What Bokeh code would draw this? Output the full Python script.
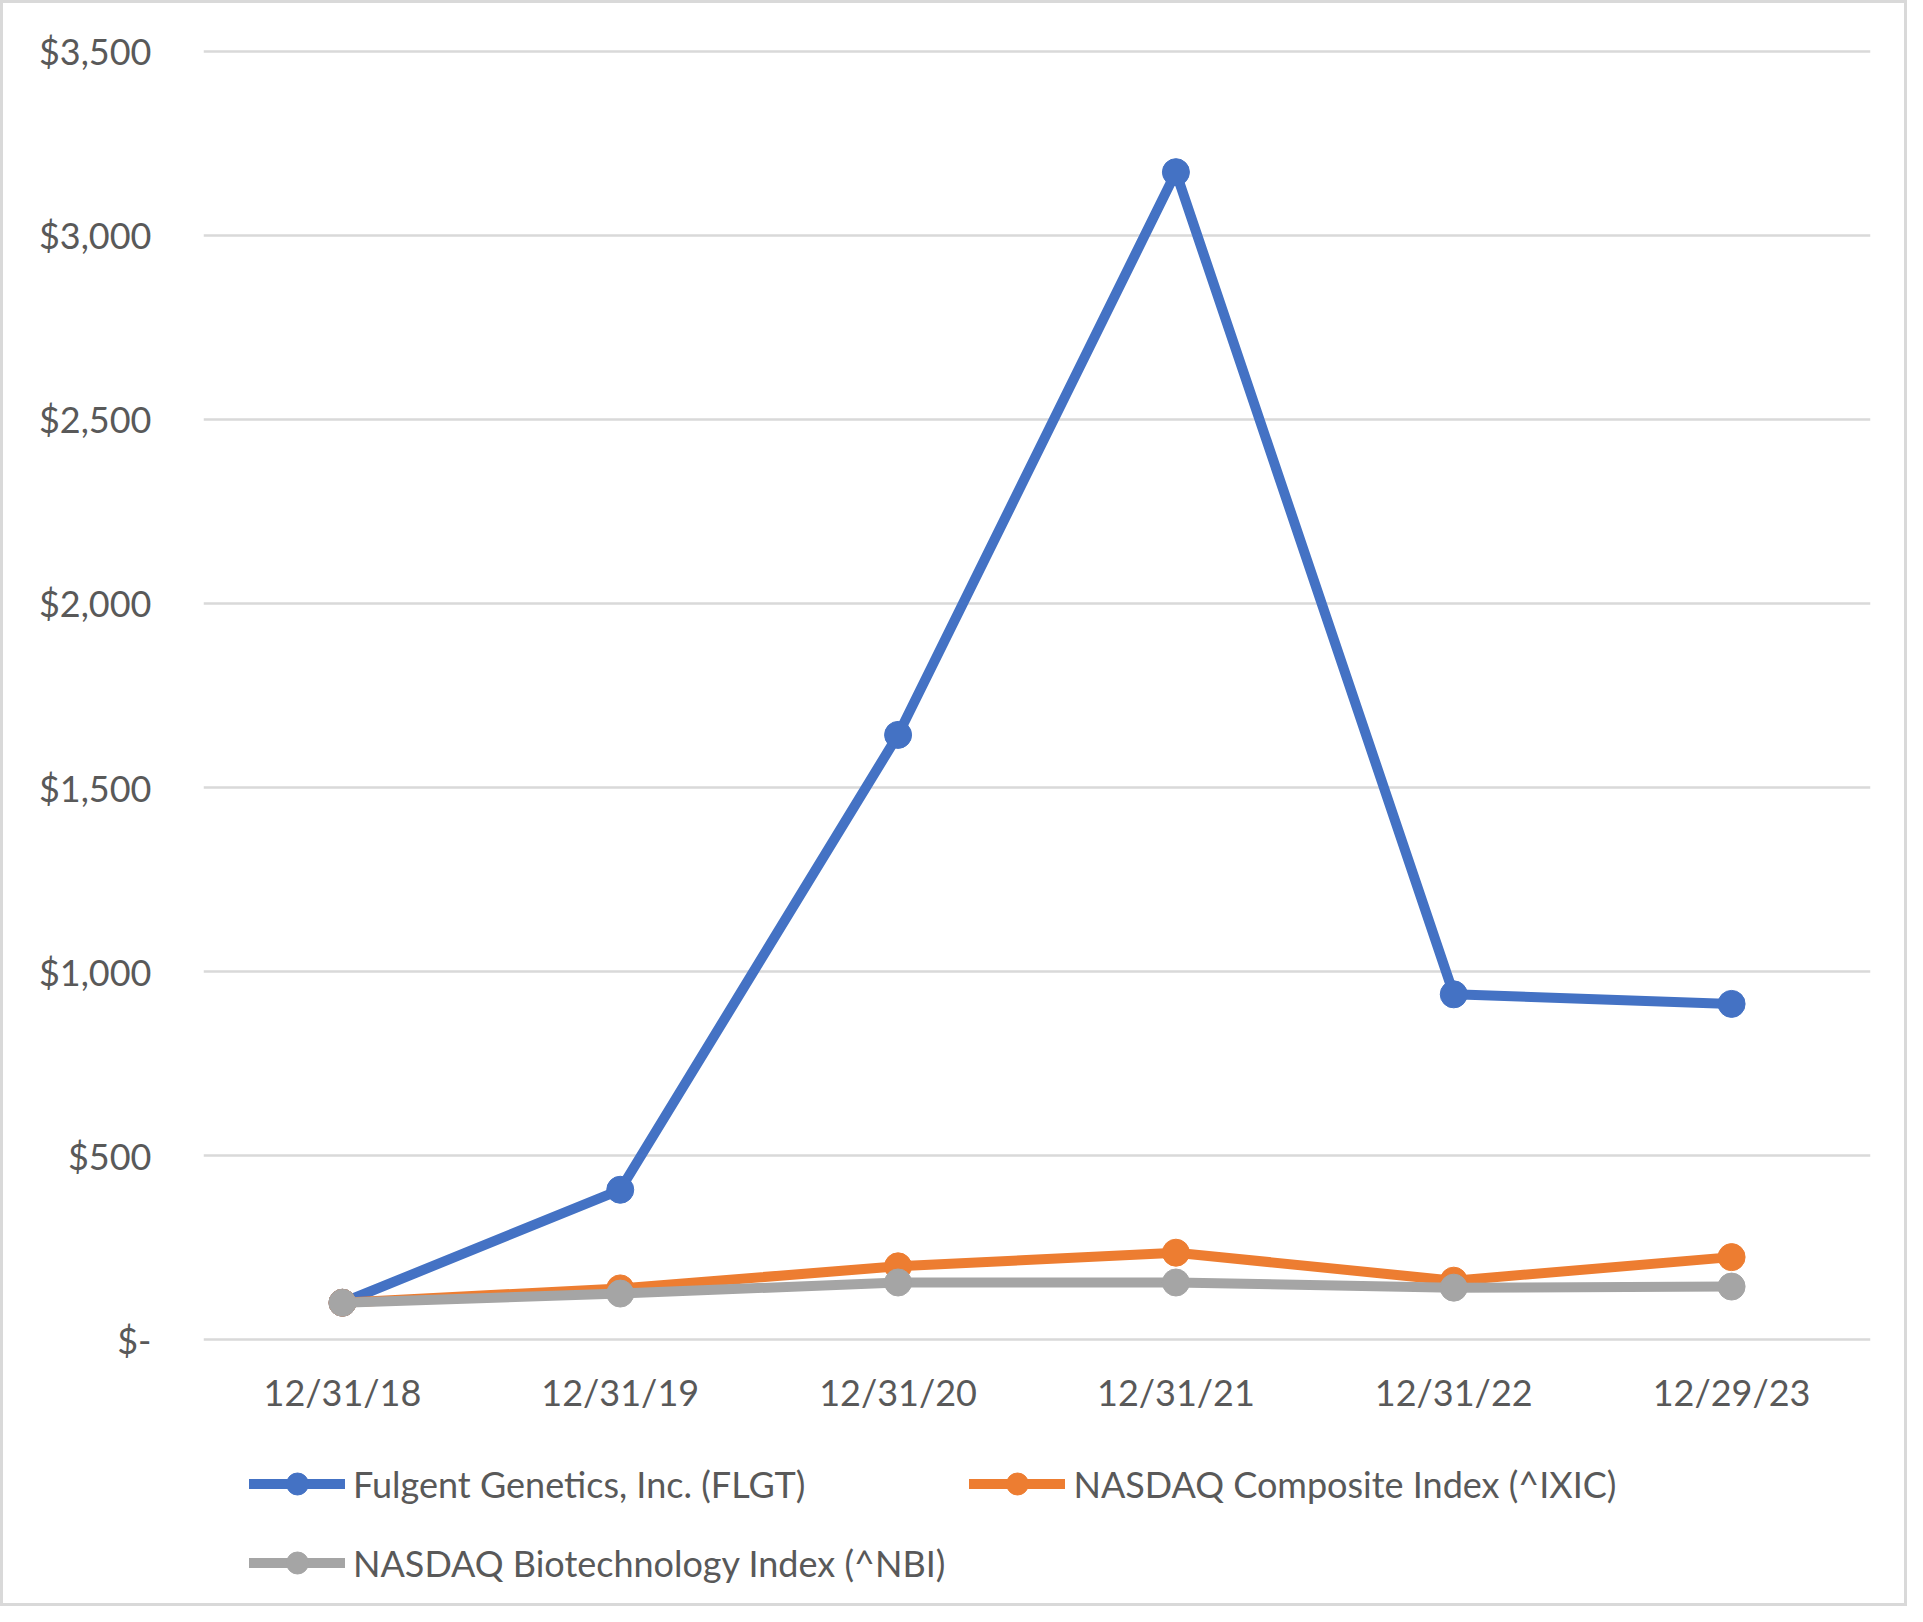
from bokeh.plotting import figure
from bokeh.layouts import column
from bokeh.models import FactorRange, Range1d, FixedTicker, Legend, LegendItem, ColumnDataSource
from bokeh.embed import file_html
from bokeh.resources import INLINE

dates = ["12/31/18", "12/31/19", "12/31/20", "12/31/21", "12/31/22", "12/29/23"]
flgt = [100, 407, 1643, 3172, 938, 912]
ixic = [100, 139, 199, 236, 160, 224]
nbi = [100, 125, 155, 155, 141, 144]
series_names = ["Fulgent Genetics, Inc. (FLGT)", "NASDAQ Composite Index (^IXIC)", "NASDAQ Biotechnology Index (^NBI)"]
y_ticks = [0, 500, 1000, 1500, 2000, 2500, 3000, 3500]
y_tick_labels = ["$-", "$500", "$1,000", "$1,500", "$2,000", "$2,500", "$3,000", "$3,500"]

colors = ["#4472C4", "#ED7D31", "#A5A5A5"]
FONT = "Lato"
TXT = "#595959"
FS = "36px"
LW = 10
MS = 27

p = figure(x_range=FactorRange(*dates), y_range=Range1d(-8, 3508),
           width=1901, height=1420,
           min_border_left=200, min_border_top=45, min_border_right=34, min_border_bottom=81,
           output_backend="svg", toolbar_location=None)
p.outline_line_color = None
p.background_fill_color = "white"
p.border_fill_color = "white"

p.xgrid.grid_line_color = None
p.ygrid.grid_line_color = "#D9D9D9"
p.ygrid.grid_line_width = 2.5

p.yaxis.ticker = FixedTicker(ticks=y_ticks)
p.yaxis.major_label_overrides = {t: l for t, l in zip(y_ticks, y_tick_labels)}
for ax in (p.xaxis, p.yaxis):
    ax.axis_line_color = None
    ax.major_tick_line_color = None
    ax.minor_tick_line_color = None
    ax.major_label_text_font = FONT
    ax.major_label_text_font_size = FS
    ax.major_label_text_color = TXT
p.yaxis.major_label_standoff = 46
p.xaxis.major_label_standoff = 21

for vals, c in zip([flgt, ixic, nbi], colors):
    src = ColumnDataSource(dict(x=dates, y=vals))
    p.line("x", "y", source=src, line_color=c, line_width=LW, line_join="round", line_cap="round")
    p.scatter("x", "y", source=src, size=MS, fill_color=c, line_color=c)

# legend strip below the chart (its series glyphs lie outside its visible range; only the legend shows)
lf = figure(width=1901, height=180, x_range=Range1d(0, 1), y_range=Range1d(0, 1),
            min_border=0, x_axis_type=None, y_axis_type=None,
            output_backend="svg", toolbar_location=None)
lf.outline_line_color = None
lf.grid.grid_line_color = None
lf.background_fill_color = "white"
lf.border_fill_color = "white"

leg_items = {}
for vals, c, name in zip([flgt, ixic, nbi], colors, series_names):
    src = ColumnDataSource(dict(x=list(range(len(vals))), y=vals))
    r1 = lf.line("x", "y", source=src, line_color=c, line_width=LW, line_cap="round")
    r2 = lf.scatter("x", "y", source=src, size=MS, fill_color=c, line_color=c)
    leg_items[name] = LegendItem(label=name, renderers=[r1, r2])

order = [series_names[0], series_names[2], series_names[1]]  # column-major fill -> rows: FLGT, IXIC / NBI
legend = Legend(items=[leg_items[n] for n in order], ncols=2, location=(46, 13),
                label_text_font=FONT, label_text_font_size=FS, label_text_color=TXT,
                glyph_width=96, glyph_height=55, label_height=55, spacing=24,
                label_standoff=8, border_line_color=None, background_fill_alpha=0,
                padding=0, margin=0)
lf.add_layout(legend, "center")

lay = column(p, lf, spacing=0)
lay.styles = {"border": "3px solid #D9D9D9", "background": "white"}

open("out.html", "w").write(file_html(lay, INLINE))
